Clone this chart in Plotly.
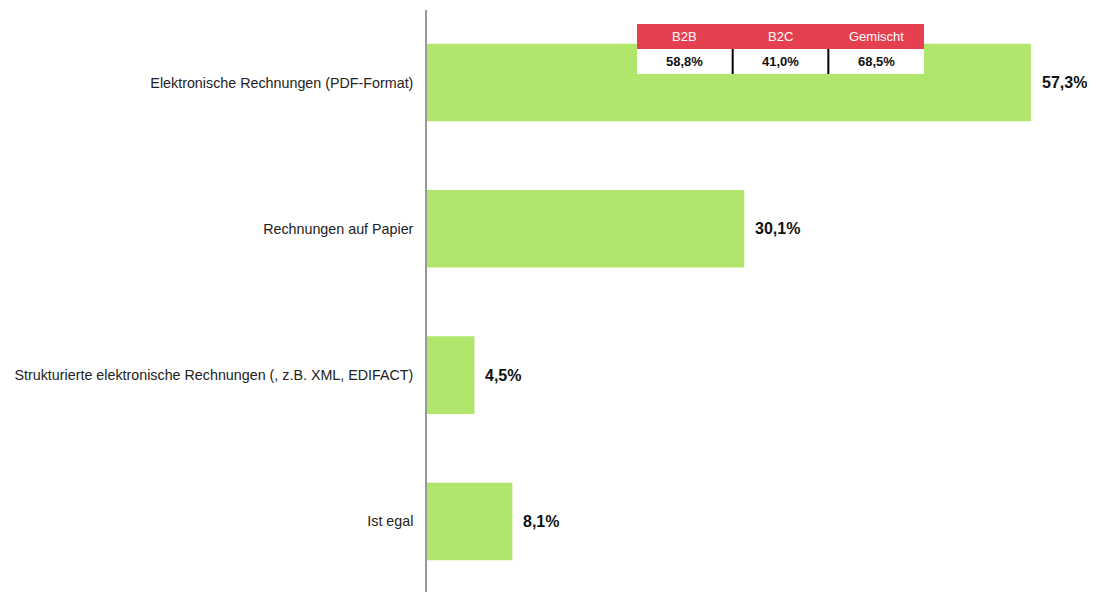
import plotly.graph_objects as go

categories = [
    "Elektronische Rechnungen (PDF-Format)",
    "Rechnungen auf Papier",
    "Strukturierte elektronische Rechnungen (, z.B. XML, EDIFACT)",
    "Ist egal",
]
values = [57.3, 30.1, 4.5, 8.1]

table_headers = ["B2B", "B2C", "Gemischt"]
table_values = [58.8, 41.0, 68.5]

BAR_COLOR = "#b1e66c"
RED = "#e5404f"
FONT = "Liberation Sans, Arial"

def fmt(v):
    return f"{v:.1f}".replace(".", ",") + "%"

fig = go.Figure()
fig.add_trace(go.Bar(
    x=values, y=categories, orientation="h",
    marker=dict(color=BAR_COLOR, line=dict(width=0)),
    width=0.53, hoverinfo="skip",
))

for c, v in zip(categories, values):
    fig.add_annotation(x=v, y=c, xref="x", yref="y", text=f"<b>{fmt(v)}</b>",
                       showarrow=False, xanchor="left", yanchor="middle", xshift=9,
                       font=dict(size=16, color="#111", family=FONT))

# inset table (paper coordinates); plot area spans 582 px vertically
PH = 582.0
def py(p):
    return (592 - p) / PH

x0, x1 = 0.3144, 0.744
y_top, y_mid, y_bot = py(24), py(49), py(74)
n = len(table_headers)
w = (x1 - x0) / n
fig.add_shape(type="rect", xref="paper", yref="paper", x0=x0, x1=x1, y0=y_mid, y1=y_top,
              fillcolor=RED, line=dict(width=0), layer="above")
fig.add_shape(type="rect", xref="paper", yref="paper", x0=x0, x1=x1, y0=y_bot, y1=y_mid,
              fillcolor="white", line=dict(width=0), layer="above")
for i in range(1, n):
    xs = x0 + i * w
    fig.add_shape(type="line", xref="paper", yref="paper", x0=xs, x1=xs, y0=y_bot, y1=y_mid,
                  line=dict(color="black", width=2), layer="above")
for i, (h, v) in enumerate(zip(table_headers, table_values)):
    xc = x0 + (i + 0.5) * w
    fig.add_annotation(x=xc, y=(y_top + y_mid) / 2, xref="paper", yref="paper", text=h,
                       showarrow=False, xanchor="center", yanchor="middle",
                       font=dict(size=13, color="white", family=FONT))
    fig.add_annotation(x=xc, y=(y_mid + y_bot) / 2, xref="paper", yref="paper", text=f"<b>{fmt(v)}</b>",
                       showarrow=False, xanchor="center", yanchor="middle",
                       font=dict(size=13, color="#111", family=FONT))

fig.update_layout(
    width=1087, height=584,
    margin=dict(l=419, r=0, t=2, b=0),
    paper_bgcolor="white", plot_bgcolor="white",
    showlegend=False,
    xaxis=dict(range=[0, 63.38], visible=False, fixedrange=True),
    yaxis=dict(categoryorder="array", categoryarray=categories, autorange=False,
               range=[3.482, -0.4955], showline=True, linecolor="#999", linewidth=1.5,
               showgrid=False, zeroline=False, ticks="", ticklabelstandoff=9,
               automargin=False,
               tickfont=dict(size=14.3, color="#222", family=FONT)),
    font=dict(family=FONT),
)

fig.write_html("out.html")
